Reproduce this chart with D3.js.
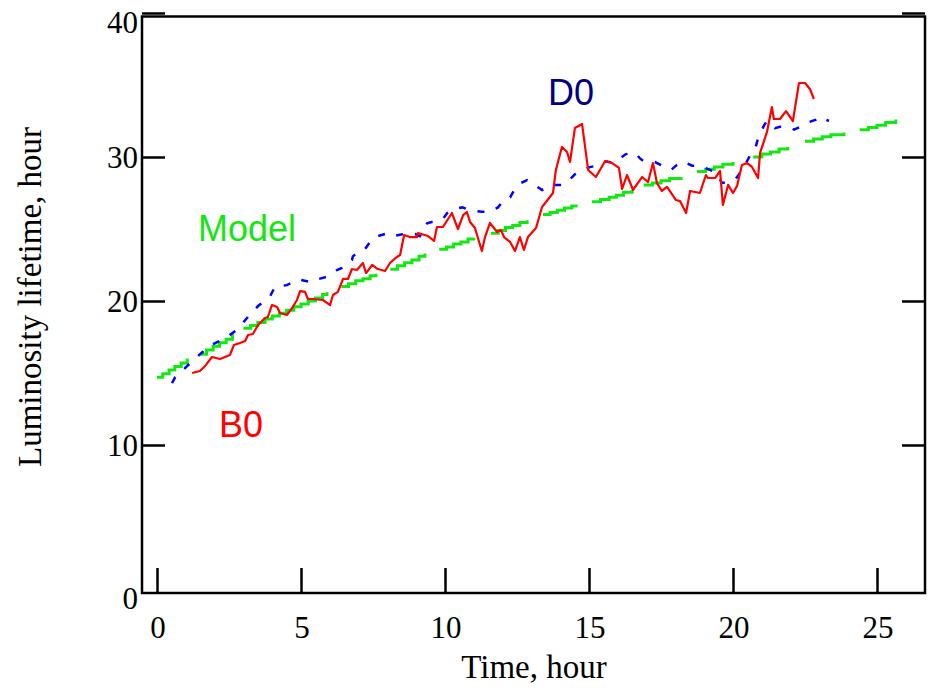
<!DOCTYPE html>
<html>
<head>
<meta charset="utf-8">
<script src="https://cdn.jsdelivr.net/npm/d3@7"></script>
<style>
  body { margin: 0; background: #fff; }
</style>
</head>
<body>
<div id="chart"></div>
<script>
// tick values
var xTicks = [0, 5, 10, 15, 20, 25];
var yTicks = [0, 10, 20, 30, 40];

// B0 measured lifetime (time, hour ; lifetime, hour)
var b0 = [[1.22,15.0],[1.49,15.14],[1.67,15.49],[1.91,16.11],[2.19,15.97],[2.36,16.11],[2.53,16.25],
  [2.67,16.94],[2.88,17.08],[3.06,17.22],[3.16,17.64],[3.33,17.71],[3.51,18.33],[3.75,18.82],[3.85,18.89],
  [3.99,19.72],[4.17,19.58],[4.27,19.17],[4.51,19.03],[4.69,19.51],[4.86,20.07],[4.97,20.69],[5.14,20.63],
  [5.24,20.14],[5.42,20.14],[5.76,20.07],[6.01,19.72],[6.11,20.42],[6.28,20.63],[6.46,21.53],[6.63,21.53],
  [6.77,22.22],[6.94,22.15],[7.15,22.64],[7.26,21.94],[7.47,22.5],[7.67,22.22],[7.92,22.08],[8.09,22.64],
  [8.33,23.06],[8.44,23.19],[8.58,24.58],[8.78,24.44],[9.03,24.44],[9.06,24.72],[9.41,24.51],[9.62,24.17],
  [9.72,25.14],[9.93,25.14],[10.24,26.11],[10.45,25.0],[10.63,25.97],[10.76,26.18],[10.87,25.49],[11.04,25.07],
  [11.28,23.47],[11.39,24.44],[11.56,25.42],[11.81,24.79],[11.94,24.93],[12.05,24.44],[12.26,24.1],[12.43,23.47],
  [12.6,24.44],[12.74,23.54],[12.88,24.44],[13.16,25.07],[13.37,26.53],[13.75,27.5],[13.85,29.1],[14.06,30.7],
  [14.24,30.35],[14.34,29.65],[14.51,32.01],[14.76,32.29],[14.97,29.1],[15.24,28.61],[15.56,29.72],[15.8,29.58],
  [16.04,29.24],[16.15,27.78],[16.32,28.75],[16.53,27.71],[16.84,28.61],[17.05,28.26],[17.22,29.58],[17.36,28.19],
  [17.53,27.64],[17.71,27.92],[18.02,27.01],[18.16,26.94],[18.37,26.11],[18.51,27.64],[18.85,27.5],[19.06,28.75],
  [19.13,28.54],[19.38,28.54],[19.55,29.03],[19.65,26.67],[19.83,28.06],[20.0,27.5],[20.14,27.99],[20.31,29.44],
  [20.49,29.58],[20.66,29.31],[20.87,28.54],[20.94,30.28],[21.18,31.74],[21.35,33.47],[21.42,32.64],[21.63,32.64],
  [21.84,33.19],[22.08,32.5],[22.29,35.14],[22.5,35.14],[22.67,34.72],[22.81,34.03]];

// D0 measured lifetime
var d0 = [[0.52,14.3],[0.63,14.7],[1.32,16.0],[1.84,16.9],[2.36,17.4],[2.78,18.0],[3.16,18.9],[3.51,19.65],
  [3.92,20.3],[4.1,21.0],[4.51,21.1],[4.9,21.5],[5.38,21.3],[5.56,21.5],[5.94,21.7],[6.25,22.15],[6.42,22.3],
  [6.77,22.85],[6.8,23.1],[7.05,23.5],[7.22,23.6],[7.5,24.4],[7.99,24.7],[8.2,24.5],[8.44,24.6],[8.68,24.7],
  [8.96,24.65],[9.13,24.5],[9.38,25.4],[9.65,25.55],[9.93,25.7],[10.07,26.1],[10.35,26.4],[10.6,26.5],
  [10.87,26.3],[11.28,26.2],[11.56,26.2],[11.84,26.5],[12.08,27.1],[12.26,27.2],[12.5,28.05],[12.85,28.4],
  [12.95,28.3],[13.23,27.9],[13.37,27.7],[13.65,28.05],[14.06,28.05],[14.27,28.3],[14.51,28.8],[14.69,29.0],
  [15.03,29.3],[15.28,29.4],[15.59,29.7],[15.8,29.6],[16.08,29.9],[16.28,30.2],[16.6,30.3],[16.77,29.9],
  [16.91,29.7],[17.29,29.65],[17.53,29.4],[17.85,29.1],[18.02,29.4],[18.26,29.7],[18.58,29.4],[18.85,29.4],
  [19.2,29.1],[19.38,28.95],[19.62,28.2],[19.9,28.3],[20.1,28.5],[20.35,29.2],[20.59,30.1],[20.76,30.5],
  [20.87,31.3],[21.08,32.2],[21.18,32.5],[21.46,32.0],[21.63,32.1],[21.91,32.1],[22.12,31.9],[22.4,32.15],
  [22.6,32.4],[22.88,32.6],[23.0,32.8],[23.33,32.5]];

// Model: stepped segments
var model = [
  [[0.0,14.7],[0.2,14.95],[0.42,15.2],[0.62,15.45],[0.84,15.7],[1.05,15.9],[1.1,15.9]],
  [[1.5,16.3],[1.72,16.6],[1.95,16.85],[2.17,17.1],[2.4,17.35],[2.62,17.6],[2.67,17.6]],
  [[3.0,18.1],[3.25,18.3],[3.5,18.5],[3.75,18.75],[4.0,18.95],[4.25,19.15],[4.5,19.35],[4.75,19.6],
   [5.0,19.8],[5.25,20.0],[5.5,20.2],[5.75,20.45],[5.9,20.6]],
  [[6.4,21.0],[6.65,21.2],[6.9,21.4],[7.15,21.55],[7.4,21.75],[7.6,21.9]],
  [[8.1,22.2],[8.35,22.45],[8.6,22.65],[8.85,22.85],[9.1,23.1],[9.3,23.3]],
  [[9.8,23.6],[10.05,23.75],[10.3,23.95],[10.55,24.1],[10.8,24.3],[11.0,24.4]],
  [[11.6,24.7],[11.85,24.9],[12.1,25.1],[12.35,25.25],[12.6,25.45],[12.85,25.6]],
  [[13.4,26.0],[13.65,26.15],[13.9,26.3],[14.15,26.45],[14.4,26.6],[14.55,26.7]],
  [[15.1,26.9],[15.4,27.05],[15.7,27.2],[15.95,27.35],[16.2,27.55],[16.5,27.7]],
  [[16.9,28.05],[17.2,28.2],[17.5,28.35],[17.8,28.5],[18.2,28.6]],
  [[18.75,29.0],[19.05,29.15],[19.35,29.3],[19.65,29.5],[20.0,29.65]],
  [[20.7,30.0],[21.0,30.2],[21.3,30.35],[21.6,30.55],[21.9,30.7]],
  [[22.5,31.1],[22.8,31.25],[23.1,31.4],[23.4,31.55],[23.85,31.7]],
  [[24.4,31.9],[24.7,32.05],[25.0,32.2],[25.3,32.4],[25.65,32.6]]
];

var W = 934, H = 688;
var frame = {left: 142, top: 16.5, right: 925, bottom: 593};

var svg = d3.select("#chart")
  .append("svg")
    .attr("width", W)
    .attr("height", H);

var x = d3.scaleLinear().domain([0, 25]).range([157, 877]);
var y = d3.scaleLinear().domain([0, 40]).range([589, 13]);

var serif = "'Liberation Serif', 'Times New Roman', serif";
var sans = "'Liberation Sans', Arial, sans-serif";

// frame
svg.append("rect")
  .attr("x", frame.left)
  .attr("y", frame.top)
  .attr("width", frame.right - frame.left)
  .attr("height", frame.bottom - frame.top)
  .attr("fill", "none")
  .attr("stroke", "#000")
  .attr("stroke-width", 2.5);

// inward ticks
function styleTicks(g) {
  g.select(".domain").remove();
  g.selectAll(".tick line").attr("stroke", "#000").attr("stroke-width", 2.5);
  g.selectAll(".tick text").remove();
}
svg.append("g")
  .attr("transform", "translate(" + frame.left + ",0)")
  .call(d3.axisRight(y).tickValues(yTicks.slice(1)).tickSize(23))
  .call(styleTicks);
svg.append("g")
  .attr("transform", "translate(" + frame.right + ",0)")
  .call(d3.axisLeft(y).tickValues(yTicks.slice(1)).tickSize(23))
  .call(styleTicks);
svg.append("g")
  .attr("transform", "translate(0," + frame.bottom + ")")
  .call(d3.axisTop(x).tickValues(xTicks).tickSize(25))
  .call(styleTicks);

// tick labels
svg.append("g")
  .selectAll("text")
  .data(xTicks)
  .enter()
  .append("text")
    .attr("x", d => x(d) + 1)
    .attr("y", 638)
    .attr("text-anchor", "middle")
    .attr("font-family", serif)
    .attr("font-size", "31px")
    .text(d => d);

svg.append("g")
  .selectAll("text")
  .data(yTicks)
  .enter()
  .append("text")
    .attr("x", 138)
    .attr("y", function(d) {
      var off = 11;
      if (d === 40) off = 20;
      if (d === 0) off = 20;
      return y(d) + off;
    })
    .attr("text-anchor", "end")
    .attr("font-family", serif)
    .attr("font-size", "31px")
    .text(d => d);

// axis titles
svg.append("text")
  .attr("x", 534)
  .attr("y", 678)
  .attr("text-anchor", "middle")
  .attr("font-family", serif)
  .attr("font-size", "33px")
  .text("Time, hour");

svg.append("text")
  .attr("transform", "translate(41,297) rotate(-90)")
  .attr("text-anchor", "middle")
  .attr("font-family", serif)
  .attr("font-size", "33px")
  .text("Luminosity lifetime, hour");

var line = d3.line()
  .x(d => x(d[0]))
  .y(d => y(d[1]));

var stepLine = d3.line()
  .x(d => x(d[0]))
  .y(d => y(d[1]))
  .curve(d3.curveStepAfter);

// model
svg.append("g")
  .selectAll("path")
  .data(model)
  .enter()
  .append("path")
    .attr("d", stepLine)
    .attr("fill", "none")
    .attr("stroke", "#14e614")
    .attr("stroke-width", 3);

// D0
svg.append("path")
  .datum(d0)
  .attr("d", line)
  .attr("fill", "none")
  .attr("stroke", "#0000ff")
  .attr("stroke-width", 2.5)
  .attr("stroke-dasharray", "7,12");

// B0
svg.append("path")
  .datum(b0)
  .attr("d", line)
  .attr("fill", "none")
  .attr("stroke", "#ff0000")
  .attr("stroke-width", 2.2)
  .attr("stroke-linejoin", "round");

// series labels
svg.append("text")
  .attr("x", 198)
  .attr("y", 241)
  .attr("font-family", sans)
  .attr("font-size", "36px")
  .attr("fill", "#14e614")
  .text("Model");

svg.append("text")
  .attr("x", 548)
  .attr("y", 105)
  .attr("font-family", sans)
  .attr("font-size", "36px")
  .attr("fill", "#000080")
  .text("D0");

svg.append("text")
  .attr("x", 219)
  .attr("y", 437)
  .attr("font-family", sans)
  .attr("font-size", "36px")
  .attr("fill", "#ff0000")
  .text("B0");
</script>
</body>
</html>
